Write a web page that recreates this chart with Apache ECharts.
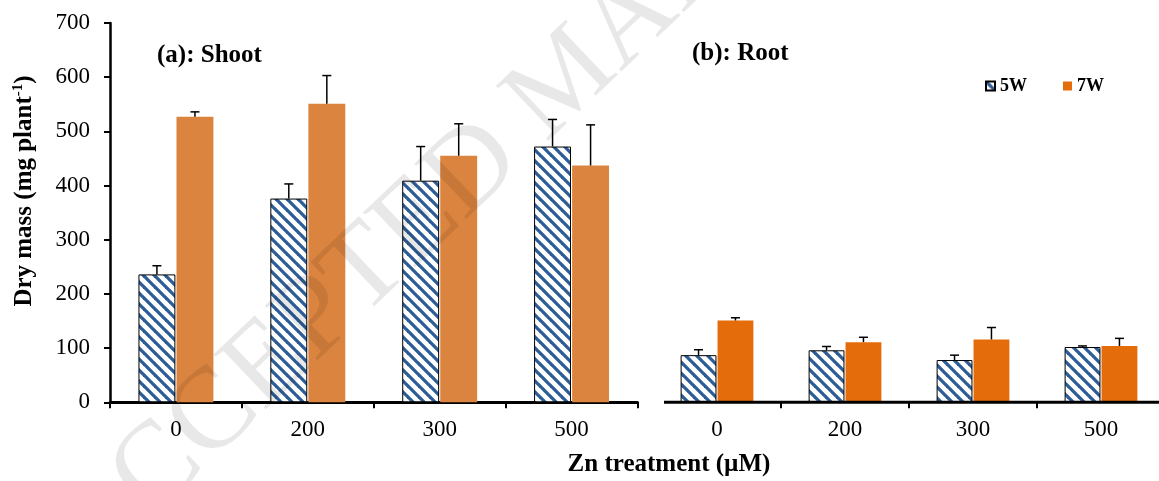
<!DOCTYPE html>
<html>
<head>
<meta charset="utf-8">
<script src="https://cdn.jsdelivr.net/npm/echarts@6/dist/echarts.min.js"></script>
<style>
  html, body { margin: 0; padding: 0; background: #fff; }
  #chart { width: 1159px; height: 481px; }
</style>
</head>
<body>
<div id="chart"></div>
<script>
// Zn treatment levels (µM)
const categories = ['0', '200', '300', '500'];

// Shoot dry mass (mg plant-1), mean and SD
const shoot5W = [236, 376, 409, 472];
const shoot5WErr = [16, 27, 63, 50];
const shoot7W = [527, 551, 455, 437];
const shoot7WErr = [9, 52, 59, 75];

// Root dry mass (mg plant-1), mean and SD
const root5W = [87, 96, 78, 102];
const root5WErr = [10, 7, 9, 2];
const root7W = [151, 111, 116, 104];
const root7WErr = [5, 9, 22, 14];

const yMin = 0, yMax = 700, yStep = 100;

const FONT = "'Liberation Serif', 'Times New Roman', serif";
const BLUE = '#2d5d96';
const ORANGE_SHOOT = '#db843f';
const ORANGE_ROOT = '#e46c0b';
const BAR_RATIO = 0.28;
const GAP_RATIO = 0.03;

// Diagonal hatch tile used for the 5W bars
function hatchTile() {
  const s = 11;
  const c = document.createElement('canvas');
  c.width = s; c.height = s;
  const g = c.getContext('2d');
  g.fillStyle = '#ffffff';
  g.fillRect(0, 0, s, s);
  g.strokeStyle = BLUE;
  g.lineWidth = 3.3;
  for (let k = -1; k <= 1; k++) {
    g.beginPath();
    g.moveTo(-2, -2 + k * s);
    g.lineTo(s + 2, s + 2 + k * s);
    g.stroke();
  }
  return c;
}
const hatch = { image: hatchTile(), repeat: 'repeat' };

const gridShoot = { left: 110, top: 23, width: 527.5, height: 379.3 };
const gridRoot = { left: 653, top: 23, width: 512, height: 379.3 };

function errRender(side) {
  return function (params, api) {
    const ci = api.value(0), v = api.value(1), e = api.value(2);
    const base = api.coord([ci, v]);
    const top = api.coord([ci, v + e]);
    const cw = api.size([1, 0])[0];
    const bw = cw * BAR_RATIO;
    const x = base[0] + side * (bw / 2 + bw * GAP_RATIO / 2);
    const st = { stroke: '#000', lineWidth: 1.5 };
    return {
      type: 'group',
      children: [
        { type: 'line', shape: { x1: x, y1: base[1], x2: x, y2: top[1] }, style: st },
        { type: 'line', shape: { x1: x - 4.5, y1: top[1], x2: x + 4.5, y2: top[1] }, style: st }
      ]
    };
  };
}

function errData(vals, errs) {
  return vals.map((v, i) => [i, v, errs[i]]);
}

function xAxisFor(gridIndex, showLine) {
  return {
    type: 'category',
    gridIndex: gridIndex,
    data: categories,
    axisLine: { show: showLine, lineStyle: { color: '#000', width: 3 } },
    axisTick: {
      show: true, inside: false, length: 6,
      lineStyle: { color: '#000', width: 2 },
      interval: showLine ? 0 : function (i) { return i !== 0; }
    },
    axisLabel: { color: '#000', fontFamily: FONT, fontSize: 23, margin: 16 },
    splitLine: { show: false }
  };
}

function yAxisFor(gridIndex, show) {
  return {
    type: 'value',
    gridIndex: gridIndex,
    min: yMin, max: yMax, interval: yStep,
    show: show,
    axisLine: { show: true, lineStyle: { color: '#000', width: 2.5 } },
    axisTick: { show: true, inside: false, length: 6, lineStyle: { color: '#000', width: 2 } },
    axisLabel: { color: '#000', fontFamily: FONT, fontSize: 23, margin: 20 },
    splitLine: { show: false }
  };
}

const barCommon = { type: 'bar', barWidth: (BAR_RATIO * 100) + '%', barGap: (GAP_RATIO * 100) + '%' };

const option = {
  backgroundColor: '#ffffff',
  animation: false,
  grid: [
    Object.assign({ outerBoundsMode: 'none', containLabel: false }, gridShoot),
    Object.assign({ outerBoundsMode: 'none', containLabel: false }, gridRoot)
  ],
  xAxis: [xAxisFor(0, true), xAxisFor(1, false)],
  yAxis: [yAxisFor(0, true), yAxisFor(1, false)],
  legend: {
    left: 985, top: 77, padding: 0,
    itemWidth: 9, itemHeight: 9, itemGap: 36,
    icon: 'rect',
    textStyle: { color: '#000', fontFamily: FONT, fontSize: 18, fontWeight: 'bold' },
    data: [
      { name: '5W' },
      { name: '7W', itemStyle: { color: ORANGE_ROOT, borderWidth: 0 } }
    ]
  },
  series: [
    Object.assign({}, barCommon, {
      name: '5W', xAxisIndex: 0, yAxisIndex: 0, data: shoot5W,
      itemStyle: { color: hatch, borderColor: '#000', borderWidth: 1 }
    }),
    Object.assign({}, barCommon, {
      name: '7W', xAxisIndex: 0, yAxisIndex: 0, data: shoot7W,
      itemStyle: { color: ORANGE_SHOOT }
    }),
    Object.assign({}, barCommon, {
      name: '5W', xAxisIndex: 1, yAxisIndex: 1, data: root5W,
      itemStyle: { color: hatch, borderColor: '#000', borderWidth: 1 }
    }),
    Object.assign({}, barCommon, {
      name: '7W', xAxisIndex: 1, yAxisIndex: 1, data: root7W,
      itemStyle: { color: ORANGE_ROOT }
    }),
    { type: 'custom', xAxisIndex: 0, yAxisIndex: 0, renderItem: errRender(-1), data: errData(shoot5W, shoot5WErr), z: 3 },
    { type: 'custom', xAxisIndex: 0, yAxisIndex: 0, renderItem: errRender(1), data: errData(shoot7W, shoot7WErr), z: 3 },
    { type: 'custom', xAxisIndex: 1, yAxisIndex: 1, renderItem: errRender(-1), data: errData(root5W, root5WErr), z: 3 },
    { type: 'custom', xAxisIndex: 1, yAxisIndex: 1, renderItem: errRender(1), data: errData(root7W, root7WErr), z: 3 }
  ],
  graphic: [
    // x-axis baseline of the root panel (starts a little inside its grid)
    {
      type: 'line', z: 5,
      shape: {
        x1: gridRoot.left + 11, y1: gridRoot.top + gridRoot.height,
        x2: gridRoot.left + gridRoot.width, y2: gridRoot.top + gridRoot.height
      },
      style: { stroke: '#000', lineWidth: 3 }
    },
    {
      type: 'text', left: 157, top: 43, z: 10,
      style: { text: '(a): Shoot', fill: '#000', font: 'bold 25px ' + FONT }
    },
    {
      type: 'text', left: 692, top: 41, z: 10,
      style: { text: '(b): Root', fill: '#000', font: 'bold 25px ' + FONT }
    },
    {
      type: 'text', z: 10,
      x: 25, y: 191, rotation: Math.PI / 2,
      style: {
        text: '{b|Dry mass (mg plant}{s|-1}{b|)}',
        align: 'center', verticalAlign: 'middle',
        rich: {
          b: { fontFamily: FONT, fontSize: 25, fontWeight: 'bold', fill: '#000', lineHeight: 28 },
          s: { fontFamily: FONT, fontSize: 15, fontWeight: 'bold', fill: '#000', lineHeight: 28, verticalAlign: 'top', padding: [0, 0, 10, 0] }
        }
      }
    },
    {
      type: 'text', z: 10, x: 669, y: 465,
      style: {
        text: 'Zn treatment (µM)', fill: '#000',
        font: 'bold 25px ' + FONT, align: 'center', verticalAlign: 'middle'
      }
    },
    {
      type: 'text', z: 20, x: 568, y: 80, rotation: 0.76,
      style: {
        text: 'ACCEPTED MANUSCRIPT', fill: 'rgba(0,0,0,0.09)',
        font: '116px ' + FONT, align: 'center', verticalAlign: 'middle'
      }
    }
  ]
};

const chart = echarts.init(document.getElementById('chart'), null, { renderer: 'canvas' });
chart.setOption(option);
</script>
</body>
</html>
